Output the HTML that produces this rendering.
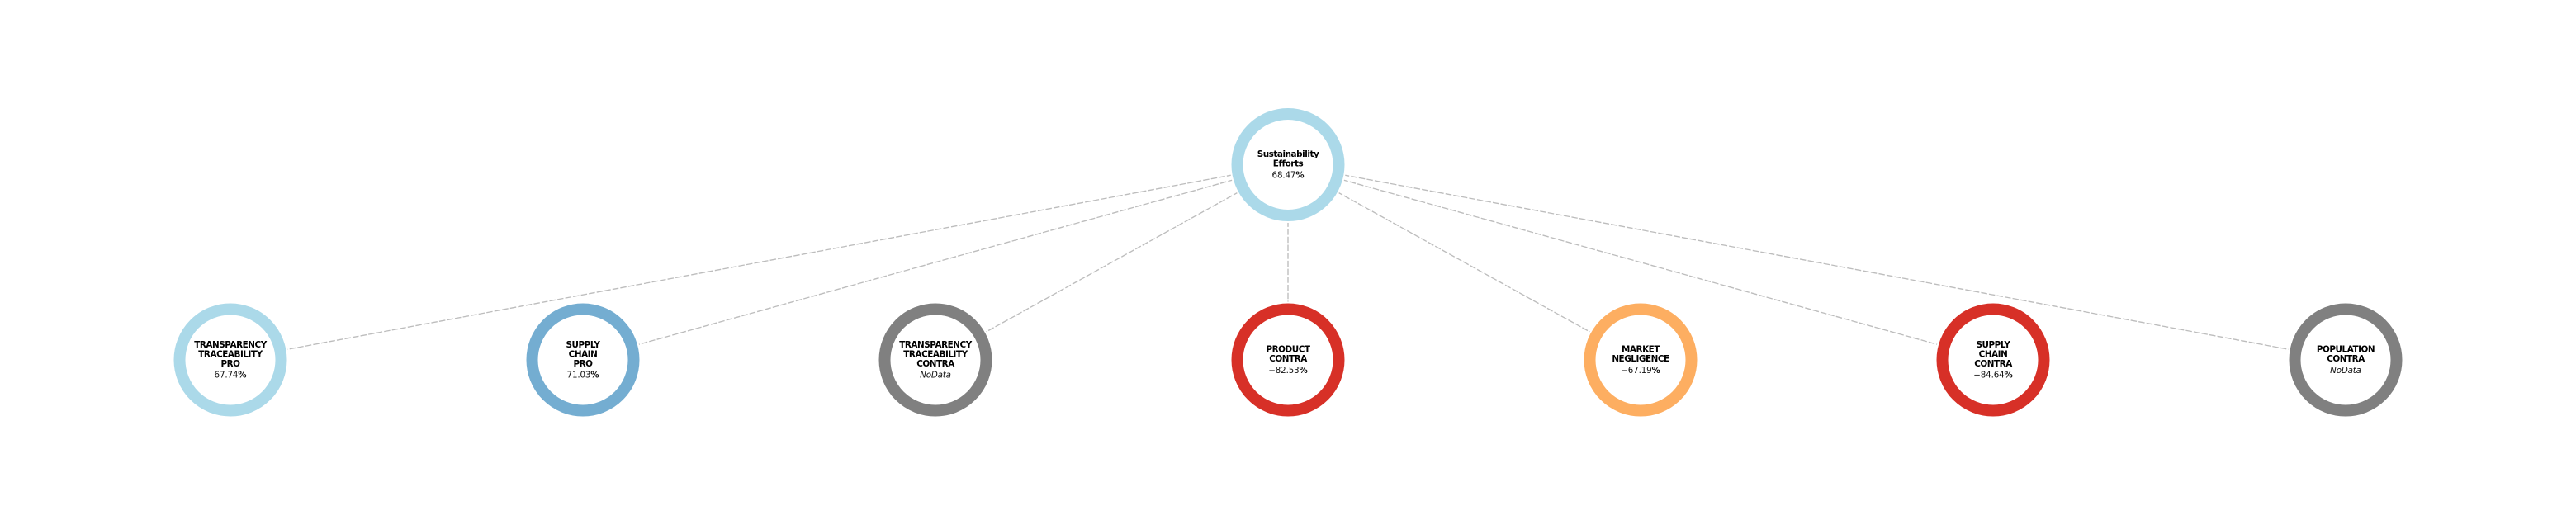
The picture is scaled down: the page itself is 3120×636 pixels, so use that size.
<!DOCTYPE html>
<html lang="en">
<head>
<meta charset="utf-8">
<title>Sustainability Efforts Tree</title>
<style>
html,body{margin:0;padding:0;background:#fff;width:3120px;height:636px;overflow:hidden}
svg{display:block}
text{font-family:"DejaVu Sans","Liberation Sans",sans-serif;text-anchor:middle;fill:#000}
.title{font-weight:700;font-size:10.4px;letter-spacing:-0.45px}
.value{font-size:10.3px;letter-spacing:-0.15px;fill:#111}
.pct{font-weight:700}
.nodata{font-style:italic}
</style>
</head>
<body>
<svg id="chart" width="3120" height="636" viewBox="0 0 3120 636" xmlns="http://www.w3.org/2000/svg">
<rect width="3120" height="636" fill="#ffffff"/>
<g id="links"></g>
<g id="nodes"></g>
</svg>
<script>
const rootLabel = ["Sustainability", "Efforts"];
const rootValue = 68.47;
const leafLabels = [
  ["TRANSPARENCY", "TRACEABILITY", "PRO"],
  ["SUPPLY", "CHAIN", "PRO"],
  ["TRANSPARENCY", "TRACEABILITY", "CONTRA"],
  ["PRODUCT", "CONTRA"],
  ["MARKET", "NEGLIGENCE"],
  ["SUPPLY", "CHAIN", "CONTRA"],
  ["POPULATION", "CONTRA"]
];
const leafValues = [67.74, 71.03, null, -82.53, -67.19, -84.64, null];

const NS = "http://www.w3.org/2000/svg";
const CENTER_X = 1560, LEAF_STEP = 427, ROOT_Y = 199.5, LEAF_Y = 436;
const RING_R = 61.5, RING_W = 14, HALO_R = 70.5;
const linksG = document.getElementById("links");
const nodesG = document.getElementById("nodes");

function leafX(i) { return CENTER_X + (i - (leafLabels.length - 1) / 2) * LEAF_STEP; }
function ringColor(v) {
  if (v === null) return "#808080";
  if (v >= 70) return "#74add1";
  if (v >= 0) return "#abd9e9";
  if (v > -70) return "#fdae61";
  return "#d73027";
}
function make(tag, attrs, parent) {
  const el = document.createElementNS(NS, tag);
  for (const k in attrs) el.setAttribute(k, attrs[k]);
  parent.appendChild(el);
  return el;
}
function drawLink(x, y) {
  const line = make("line", { x1: CENTER_X, y1: ROOT_Y, x2: x, y2: y, stroke: "#bdbdbd", "stroke-width": 1.35, "stroke-dasharray": "7.5 2.2" }, linksG);
  
  
}
function drawNode(x, y, label, value) {
  const g = make("g", {}, nodesG);
  
  

  const halo = make("circle", { cx: x, cy: y, r: HALO_R, fill: "#ffffff" }, g);
  
  

  const ring = make("circle", { cx: x, cy: y, r: RING_R, fill: "#ffffff", stroke: ringColor(value), "stroke-width": RING_W }, g);
  
  

  const first = y - 3.6 - 5.75 * (label.length - 1);
  label.forEach(function (line, i) {
    const t = make("text", { x: x, y: first + i * 11.5, class: "title" }, g);
    t.textContent = line;
    
    
  });

  const vy = first + (label.length - 1) * 11.5 + 13.6;
  const vt = make("text", { x: x, y: vy, class: value === null ? "value nodata" : "value" }, g);
  
  
  if (value === null) {
    vt.textContent = "NoData";
  } else {
    vt.appendChild(document.createTextNode((value < 0 ? "\u2212" : "") + Math.abs(value).toFixed(2)));
    const pct = make("tspan", { class: "pct" }, vt);
    pct.textContent = "%";
  }
}

leafLabels.forEach(function (_, i) { drawLink(leafX(i), LEAF_Y); });
drawNode(CENTER_X, ROOT_Y, rootLabel, rootValue);
leafLabels.forEach(function (label, i) { drawNode(leafX(i), LEAF_Y, label, leafValues[i]); });
</script>
</body>
</html>
